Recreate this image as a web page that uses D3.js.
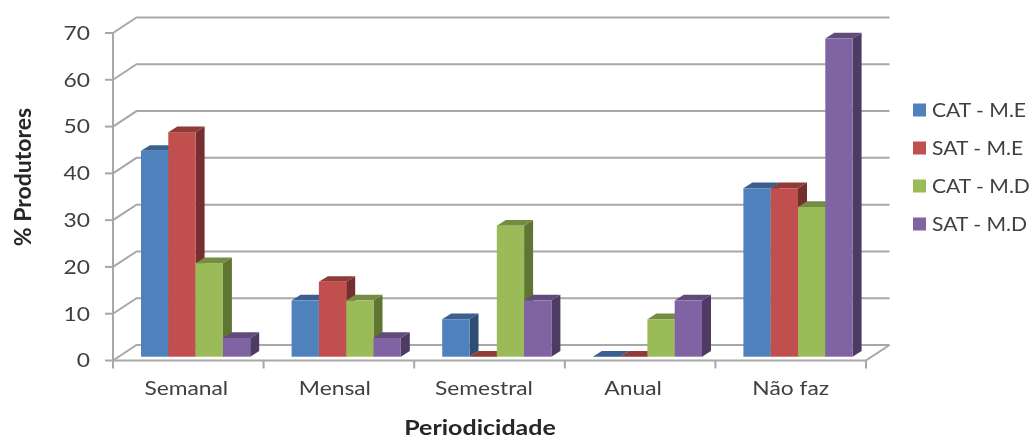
<!DOCTYPE html>
<html>
<head>
<meta charset="utf-8">
<script src="https://cdn.jsdelivr.net/npm/d3@7"></script>
<style>
  html, body { margin: 0; padding: 0; background: #fff; }
  svg { display: block; }
  text { font-family: Lato, "Open Sans", sans-serif; }
</style>
</head>
<body>
<script>
// Chart data
const categories = ["Semanal", "Mensal", "Semestral", "Anual", "Não faz"];
const seriesNames = ["CAT - M.E", "SAT - M.E", "CAT - M.D", "SAT - M.D"];
const catME = [44, 12, 8, 0, 36];
const satME = [48, 16, 0, 0, 36];
const catMD = [20, 12, 28, 8, 32];
const satMD = [4, 4, 12, 12, 68];
const yTicks = [0, 10, 20, 30, 40, 50, 60, 70];
const seriesValues = [catME, satME, catMD, satMD];

// Face colours: front, side, top
const colors = ["#4f81bd", "#c0504d", "#9bbb59", "#8064a2"];
const sideColors = ["#2f4e74", "#772f2d", "#5f7533", "#4e3b64"];
const topColors = ["#3b608f", "#8f3b39", "#748d42", "#604b7a"];

const width = 1030, height = 439;
const gridColor = "#a8a8a8";

// Wall depth and bar depth of the 3D look
const wallDx = 23.5, wallDy = -15.5;
const barDx = 9, barDy = -5.7;
const barFloorDy = -3.8;

const x = d3.scaleBand().domain(categories).range([113, 866]);
const y = d3.scaleLinear().domain([0, 70]).range([360.5, 33]);
// bars sit inside each band, leaving room for the depth on the right
const inner = d3.scaleBand().domain(seriesNames).range([28, 137.2]);

const svg = d3.select("body").append("svg")
  .attr("width", width)
  .attr("height", height);

// Slight softening, the source picture is a scaled bitmap
svg.append("defs").append("filter")
  .attr("id", "soft")
  .append("feGaussianBlur")
  .attr("stdDeviation", 0.45);

const g = svg.append("g").attr("filter", "url(#soft)");

// Back wall gridlines with their diagonal on the side wall
const grid = g.append("g")
  .attr("fill", "none")
  .attr("stroke", gridColor)
  .attr("stroke-width", 2);

grid.selectAll("path")
  .data(yTicks)
  .enter()
  .append("path")
  .attr("d", d => `M${x.range()[0]},${y(d)}L${x.range()[0] + wallDx},${y(d) + wallDy}H${x.range()[1] + wallDx}`);

// Floor edge on the right
grid.append("path")
  .attr("d", `M${x.range()[1]},${y(0)}L${x.range()[1] + wallDx},${y(0) + wallDy}`);

// Axes lines and ticks
const axisLines = g.append("g")
  .attr("fill", "none")
  .attr("stroke", gridColor)
  .attr("stroke-width", 2);

axisLines.append("path")
  .attr("d", `M${x.range()[0]},${y(70)}V${y(0)}H${x.range()[1]}`);

axisLines.selectAll(".ytick")
  .data(yTicks)
  .enter()
  .append("path")
  .attr("class", "ytick")
  .attr("d", d => `M${x.range()[0] - 8},${y(d)}H${x.range()[0]}`);

axisLines.selectAll(".xtick")
  .data(categories.concat([null]))
  .enter()
  .append("path")
  .attr("class", "xtick")
  .attr("d", d => {
    const px = d === null ? x.range()[1] : x(d);
    return `M${px},${y(0)}V${y(0) + 8}`;
  });

// Bars: side and top first, front on top, drawn left to right
const bars = [];
categories.forEach((c, i) => {
  seriesNames.forEach((s, j) => {
    bars.push({ category: c, series: s, index: j, value: seriesValues[j][i] });
  });
});

const bar = g.append("g").selectAll("g")
  .data(bars)
  .enter()
  .append("g");

const barLeft = d => x(d.category) + inner(d.series);
const barRight = d => barLeft(d) + inner.bandwidth();
const barBase = y(0) + barFloorDy;
const barTop = d => barBase - (y(0) - y(d.value));

bar.append("path")
  .attr("fill", d => sideColors[d.index])
  .attr("d", d => `M${barRight(d)},${barBase}L${barRight(d) + barDx},${barBase + barDy}V${barTop(d) + barDy}L${barRight(d)},${barTop(d)}Z`);

bar.append("path")
  .attr("fill", d => topColors[d.index])
  .attr("d", d => `M${barLeft(d)},${barTop(d)}L${barLeft(d) + barDx},${barTop(d) + barDy}H${barRight(d) + barDx}L${barRight(d)},${barTop(d)}Z`);

bar.append("rect")
  .attr("fill", d => colors[d.index])
  .attr("x", barLeft)
  .attr("y", barTop)
  .attr("width", inner.bandwidth())
  .attr("height", d => barBase - barTop(d));

// Tick labels, the source text is stretched sideways
const labelColor = "#404040";
const labelShift = { "Semanal": -2, "Mensal": -4, "Semestral": -5.5, "Anual": -7, "Não faz": 0 };

g.append("g").selectAll("text")
  .data(yTicks)
  .enter()
  .append("text")
  .attr("transform", d => `translate(90,${y(d)}) scale(1.2,1)`)
  .attr("dy", "0.36em")
  .attr("text-anchor", "end")
  .attr("font-size", 19)
  .attr("fill", labelColor)
  .text(d => d);

g.append("g").selectAll("text")
  .data(categories)
  .enter()
  .append("text")
  .attr("transform", d => `translate(${x(d) + x.bandwidth() / 2 + labelShift[d]},395) scale(1.2,1)`)
  .attr("text-anchor", "middle")
  .attr("font-size", 19)
  .attr("fill", labelColor)
  .text(d => d);

// Axis titles
g.append("text")
  .attr("transform", "translate(31,177) rotate(-90)")
  .attr("text-anchor", "middle")
  .attr("font-size", 23)
  .attr("font-weight", 700)
  .attr("fill", "#262626")
  .text("% Produtores");

g.append("text")
  .attr("transform", "translate(480,435) scale(1.25,1)")
  .attr("text-anchor", "middle")
  .attr("font-size", 20)
  .attr("font-weight", 700)
  .attr("fill", "#262626")
  .text("Periodicidade");

// Legend
const legendY = d3.scalePoint().domain(seriesNames).range([110, 224]);

const legend = g.append("g").selectAll("g")
  .data(seriesNames)
  .enter()
  .append("g")
  .attr("transform", d => `translate(913,${legendY(d)})`);

legend.append("rect")
  .attr("y", -6.5)
  .attr("width", 13)
  .attr("height", 13)
  .attr("fill", (d, i) => colors[i]);

legend.append("text")
  .attr("transform", "translate(19,0) scale(1.11,1)")
  .attr("dy", "0.36em")
  .attr("font-size", 19)
  .attr("fill", labelColor)
  .text(d => d);
</script>
</body>
</html>
